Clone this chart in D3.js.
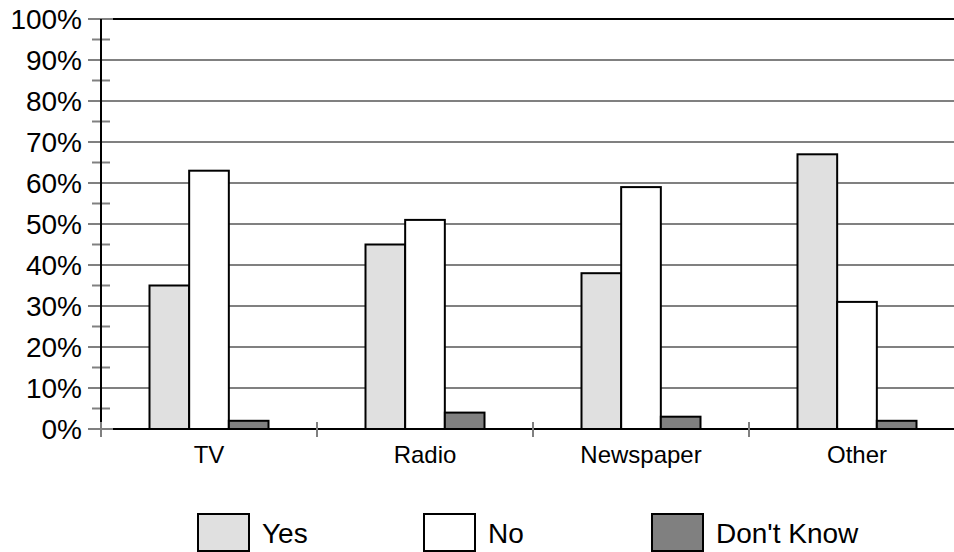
<!DOCTYPE html>
<html>
<head>
<meta charset="utf-8">
<script src="https://cdn.jsdelivr.net/npm/d3@7"></script>
<style>
  body { margin: 0; background: #fff; }
  svg { display: block; font-family: "Liberation Sans", Arial, sans-serif; }
</style>
</head>
<body>
<svg id="chart" width="954" height="552"></svg>
<script>
// data
const categories = ['TV', 'Radio', 'Newspaper', 'Other'];
const seriesNames = ['Yes', 'No', "Don't Know"];
const yesValues = [35, 45, 38, 67];
const noValues = [63, 51, 59, 31];
const dontKnowValues = [2, 4, 3, 2];
const yTicks = [0, 10, 20, 30, 40, 50, 60, 70, 80, 90, 100];
const yMinorTicks = [5, 15, 25, 35, 45, 55, 65, 75, 85, 95];

const colors = ['#e0e0e0', '#ffffff', '#808080'];
const seriesValues = [yesValues, noValues, dontKnowValues];

const svg = d3.select('#chart');
const width = +svg.attr('width');

// plot area runs off the right edge, as in the reference
const plotLeft = 101, plotRight = 965, plotTop = 19, plotBottom = 429;

const x0 = d3.scaleBand().domain(categories).range([plotLeft, plotRight]);
const x1 = d3.scaleBand().domain(seriesNames).range([48.5, 167.5]);
const y = d3.scaleLinear().domain([0, 100]).range([plotBottom, plotTop]);

// gridlines
svg.append('g')
    .selectAll('line')
    .data(yTicks)
    .enter().append('line')
    .attr('x1', 88)
    .attr('x2', width)
    .attr('y1', d => y(d))
    .attr('y2', d => y(d))
    .attr('stroke', '#808080')
    .attr('stroke-width', 2);

// minor ticks
svg.append('g')
    .selectAll('line')
    .data(yMinorTicks)
    .enter().append('line')
    .attr('x1', 92)
    .attr('x2', 110)
    .attr('y1', d => y(d))
    .attr('y2', d => y(d))
    .attr('stroke', '#808080')
    .attr('stroke-width', 2);

// black top and bottom lines
svg.append('g')
    .selectAll('line')
    .data([0, 100])
    .enter().append('line')
    .attr('x1', 113)
    .attr('x2', width)
    .attr('y1', d => y(d))
    .attr('y2', d => y(d))
    .attr('stroke', '#000')
    .attr('stroke-width', 2);

// category boundary ticks
svg.append('g')
    .selectAll('line')
    .data(categories.slice(1))
    .enter().append('line')
    .attr('x1', d => x0(d))
    .attr('x2', d => x0(d))
    .attr('y1', plotBottom - 7)
    .attr('y2', plotBottom + 8)
    .attr('stroke', '#808080')
    .attr('stroke-width', 2);

// y axis line
svg.append('line')
    .attr('x1', plotLeft).attr('x2', plotLeft)
    .attr('y1', y(100)).attr('y2', y(0))
    .attr('stroke', '#000')
    .attr('stroke-width', 2);
svg.append('line')
    .attr('x1', plotLeft).attr('x2', plotLeft)
    .attr('y1', plotBottom - 7).attr('y2', plotBottom + 8)
    .attr('stroke', '#808080')
    .attr('stroke-width', 2);

// bars
const groups = svg.append('g')
    .selectAll('g')
    .data(categories)
    .enter().append('g')
    .attr('transform', d => `translate(${x0(d)},0)`);

groups.selectAll('rect')
    .data((c, i) => seriesNames.map((s, j) => ({ key: s, value: seriesValues[j][i], color: colors[j] })))
    .enter().append('rect')
    .attr('x', d => x1(d.key))
    .attr('width', x1.bandwidth())
    .attr('y', d => y(d.value))
    .attr('height', d => y(0) - y(d.value))
    .attr('fill', d => d.color)
    .attr('stroke', '#000')
    .attr('stroke-width', 2);

// y labels
svg.append('g')
    .selectAll('text')
    .data(yTicks)
    .enter().append('text')
    .attr('x', 82)
    .attr('y', d => y(d) + 10)
    .attr('text-anchor', 'end')
    .attr('font-size', 28)
    .attr('fill', '#000')
    .text(d => d + '%');

// category labels
svg.append('g')
    .selectAll('text')
    .data(categories)
    .enter().append('text')
    .attr('x', d => x0(d) + x0.bandwidth() / 2)
    .attr('y', 463)
    .attr('text-anchor', 'middle')
    .attr('font-size', 24)
    .attr('fill', '#000')
    .text(d => d);

// legend
const legendX = [198, 424, 652];
const legend = svg.append('g')
    .selectAll('g')
    .data(seriesNames)
    .enter().append('g')
    .attr('transform', (d, i) => `translate(${legendX[i]},514)`);

legend.append('rect')
    .attr('width', 51)
    .attr('height', 37)
    .attr('fill', (d, i) => colors[i])
    .attr('stroke', '#000')
    .attr('stroke-width', 2);

legend.append('text')
    .attr('x', 64)
    .attr('y', 29)
    .attr('font-size', 28)
    .attr('fill', '#000')
    .text(d => d);
</script>
</body>
</html>
